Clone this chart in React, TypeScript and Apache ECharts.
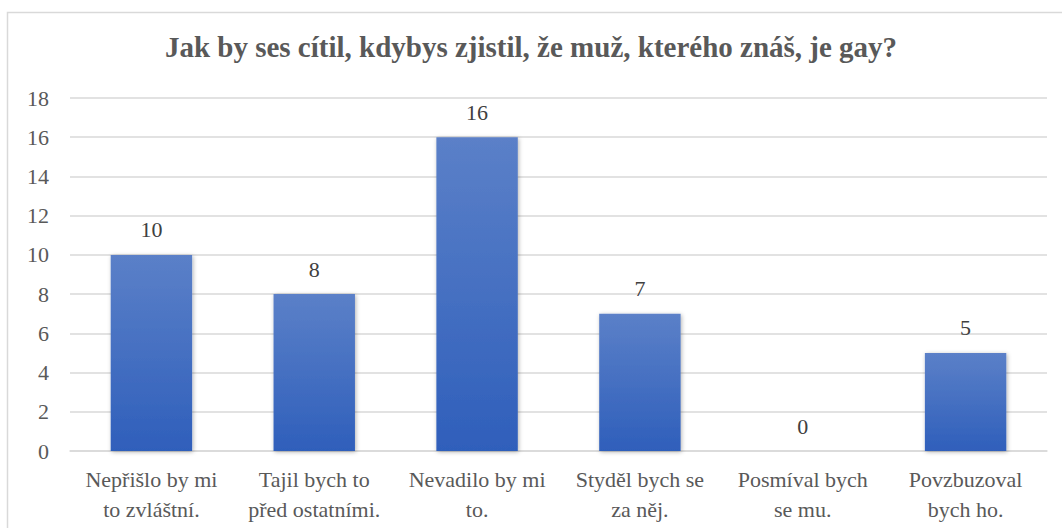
import React, { useEffect, useRef } from "react";
import * as echarts from "echarts";

const title = "Jak by ses cítil, kdybys zjistil, že muž, kterého znáš, je gay?";
const categories = [
  "Nepřišlo by mi\nto zvláštní.",
  "Tajil bych to\npřed ostatními.",
  "Nevadilo by mi\nto.",
  "Styděl bych se\nza něj.",
  "Posmíval bych\nse mu.",
  "Povzbuzoval\nbych ho.",
];
const values = [10, 8, 16, 7, 0, 5];
const yMin = 0;
const yMax = 18;
const yInterval = 2;

export default function App() {
  const ref = useRef<HTMLDivElement>(null);
  useEffect(() => {
    if (!ref.current) return;
    const chart = echarts.init(ref.current, null, { renderer: "svg" });
    const font = "'Liberation Serif', 'Times New Roman', serif";
    chart.setOption({
      animation: false,
      backgroundColor: "#ffffff",
      textStyle: { fontFamily: font },
      graphic: [
        {
          type: "rect",
          shape: { x: 7.5, y: 12.5, width: 1070, height: 530 },
          style: { fill: "none", stroke: "#d9d9d9", lineWidth: 1.5 },
          silent: true,
        },
      ],
      title: {
        text: title,
        left: "center",
        top: 27,
        padding: [5, 5, 5, 23],
        textStyle: { fontFamily: font, fontSize: 29, fontWeight: "bold", color: "#595959" },
      },
      grid: { left: 70, right: 15, top: 98, bottom: 77, containLabel: false },
      xAxis: {
        type: "category",
        data: categories,
        axisLine: { show: true, lineStyle: { color: "#d9d9d9", width: 1.5 } },
        axisTick: { show: false },
        axisLabel: {
          interval: 0,
          color: "#595959",
          fontFamily: font,
          fontSize: 22,
          lineHeight: 30,
          margin: 13,
        },
      },
      yAxis: {
        type: "value",
        min: yMin,
        max: yMax,
        interval: yInterval,
        axisLine: { show: false },
        axisTick: { show: false },
        splitLine: { lineStyle: { color: "#d9d9d9", width: 1.5 } },
        axisLabel: { color: "#595959", fontFamily: font, fontSize: 22, margin: 21 },
      },
      series: [
        {
          type: "bar",
          data: values,
          barWidth: "50%",
          itemStyle: {
            color: new echarts.graphic.LinearGradient(0, 0, 0, 1, [
              { offset: 0, color: "#5b80c8" },
              { offset: 1, color: "#2f5fbb" },
            ]),
            shadowColor: "rgba(0,0,0,0.3)",
            shadowBlur: 4,
            shadowOffsetX: 1,
            shadowOffsetY: 1,
          },
          label: {
            show: true,
            position: "top",
            distance: 14,
            color: "#404040",
            fontFamily: font,
            fontSize: 22,
          },
        },
      ],
    });
    return () => chart.dispose();
  }, []);
  return (
    <div
      ref={ref}
      style={{ position: "fixed", left: 0, top: 0, width: 1062, height: 528 }}
    />
  );
}
